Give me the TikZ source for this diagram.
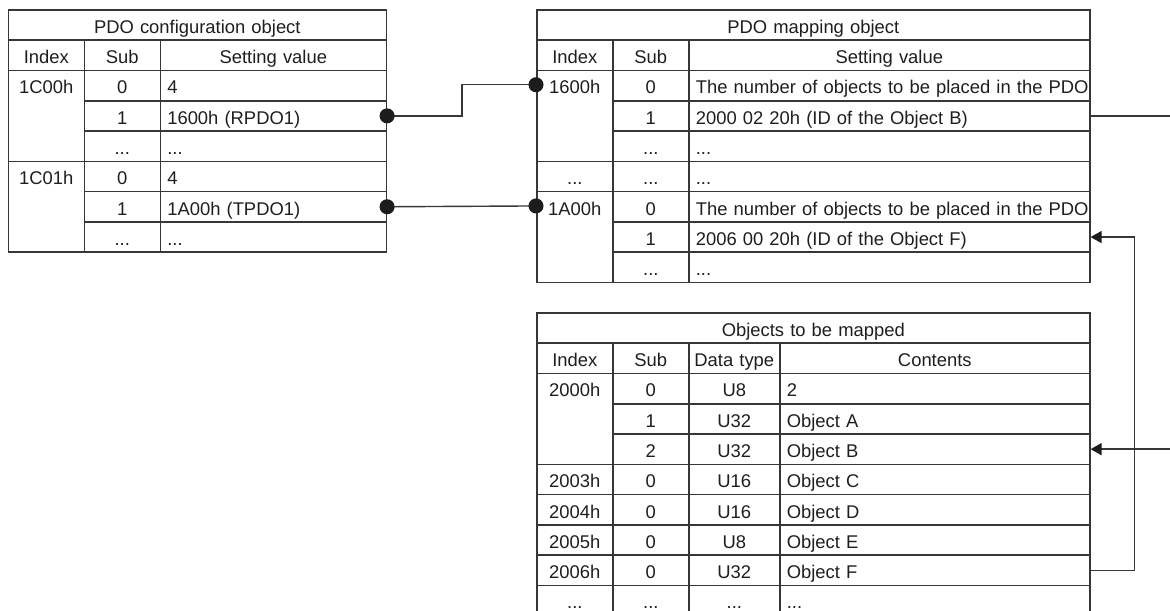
\documentclass[tikz,border=0pt]{standalone}
\usepackage{fontspec}
\setmainfont{Liberation Sans}
\usepackage{tikz}
\usetikzlibrary{arrows.meta,positioning}
\definecolor{tline}{RGB}{55,55,55}
\definecolor{tdot}{RGB}{28,28,28}
\definecolor{txt}{RGB}{30,30,30}

\begin{document}
\begin{tikzpicture}[x=0.5pt,y=-0.5pt,
  cell/.style={draw=tline,line width=0.8pt,anchor=north west,inner xsep=3.5pt,inner ysep=0pt,
    text height=11.7pt,text depth=3.45pt,text=txt,font=\fontsize{9.2pt}{11pt}\selectfont},
  mid/.style={cell,align=center,text width=#1},
  lft/.style={cell,align=left,text width=#1},
  span/.style={text depth=33.75pt},
  link/.style={draw=tline,line width=0.7pt},
  dots/.style={link,{Circle[length=7.5pt,color=tdot]}-{Circle[length=7.5pt,color=tdot]},
    shorten <=-3.75pt,shorten >=-3.75pt},
  ptr/.style={link,-{Triangle[length=5.5pt,width=6pt,color=tdot]}}]
\useasboundingbox (0,0) rectangle (1170,610);
\clip (0,0) rectangle (1170,610);

% PDO configuration object
\node[mid=182pt] (cfgHead) at (7.5,9) {PDO configuration object};
\node[mid=31pt] (cfgIdxH) at (7.5,39.3) {Index};
\node[mid=31pt] (cfgSubH) at (83.5,39.3) {Sub};
\node[mid=106pt] (cfgValH) at (159.5,39.3) {Setting value};
\node[mid=31pt,span] (cfgIdxR) at (7.5,69.6) {1C00h};
\node[mid=31pt] (cfgSubR0) at (83.5,69.6) {0};
\node[lft=106pt] (cfgValR0) at (159.5,69.6) {4};
\node[mid=31pt] (cfgSubR1) at (83.5,99.9) {1};
\node[lft=106pt] (cfgValR1) at (159.5,99.9) {1600h (RPDO1)};
\node[mid=31pt] (cfgSubR2) at (83.5,130.2) {...};
\node[lft=106pt] (cfgValR2) at (159.5,130.2) {...};
\node[mid=31pt,span] (cfgIdxT) at (7.5,160.5) {1C01h};
\node[mid=31pt] (cfgSubT0) at (83.5,160.5) {0};
\node[lft=106pt] (cfgValT0) at (159.5,160.5) {4};
\node[mid=31pt] (cfgSubT1) at (83.5,190.8) {1};
\node[lft=106pt] (cfgValT1) at (159.5,190.8) {1A00h (TPDO1)};
\node[mid=31pt] (cfgSubT2) at (83.5,221.1) {...};
\node[lft=106pt] (cfgValT2) at (159.5,221.1) {...};

% PDO mapping object
\node[mid=269.5pt] (mapHead) at (536,9) {PDO mapping object};
\node[mid=31pt] (mapIdxH) at (536,39.3) {Index};
\node[mid=31pt] (mapSubH) at (612,39.3) {Sub};
\node[mid=193.5pt] (mapValH) at (688,39.3) {Setting value};
\node[mid=31pt,span] (mapIdxR) at (536,69.6) {1600h};
\node[mid=31pt] (mapSubR0) at (612,69.6) {0};
\node[lft=193.5pt] (mapValR0) at (688,69.6) {\mbox{The number of objects to be placed in the PDO}};
\node[mid=31pt] (mapSubR1) at (612,99.9) {1};
\node[lft=193.5pt] (mapValR1) at (688,99.9) {2000 02 20h (ID of the Object B)};
\node[mid=31pt] (mapSubR2) at (612,130.2) {...};
\node[lft=193.5pt] (mapValR2) at (688,130.2) {...};
\node[mid=31pt] (mapIdxX) at (536,160.5) {...};
\node[mid=31pt] (mapSubX) at (612,160.5) {...};
\node[lft=193.5pt] (mapValX) at (688,160.5) {...};
\node[mid=31pt,span] (mapIdxT) at (536,190.8) {1A00h};
\node[mid=31pt] (mapSubT0) at (612,190.8) {0};
\node[lft=193.5pt] (mapValT0) at (688,190.8) {\mbox{The number of objects to be placed in the PDO}};
\node[mid=31pt] (mapSubT1) at (612,221.1) {1};
\node[lft=193.5pt] (mapValT1) at (688,221.1) {2006 00 20h (ID of the Object F)};
\node[mid=31pt] (mapSubT2) at (612,251.4) {...};
\node[lft=193.5pt] (mapValT2) at (688,251.4) {...};

% Objects to be mapped
\node[mid=269.5pt] (objHead) at (536,312) {Objects to be mapped};
\node[mid=31pt] (objIdxH) at (536,342.3) {Index};
\node[mid=31pt] (objSubH) at (612,342.3) {Sub};
\node[mid=40.5pt,inner xsep=2.5pt] (objTypH) at (688,342.3) {\mbox{Data type}};
\node[mid=148pt] (objValH) at (779,342.3) {Contents};
\node[mid=31pt,span] (objIdxAB) at (536,372.6) {2000h};
\node[mid=31pt] (objSub0) at (612,372.6) {0};
\node[mid=38.5pt] (objTyp0) at (688,372.6) {U8};
\node[lft=148pt] (objVal0) at (779,372.6) {2};
\node[mid=31pt] (objSubA) at (612,402.9) {1};
\node[mid=38.5pt] (objTypA) at (688,402.9) {U32};
\node[lft=148pt] (objA) at (779,402.9) {Object A};
\node[mid=31pt] (objSubB) at (612,433.2) {2};
\node[mid=38.5pt] (objTypB) at (688,433.2) {U32};
\node[lft=148pt] (objB) at (779,433.2) {Object B};
\node[mid=31pt] (objIdxC) at (536,463.5) {2003h};
\node[mid=31pt] (objSubC) at (612,463.5) {0};
\node[mid=38.5pt] (objTypC) at (688,463.5) {U16};
\node[lft=148pt] (objC) at (779,463.5) {Object C};
\node[mid=31pt] (objIdxD) at (536,493.8) {2004h};
\node[mid=31pt] (objSubD) at (612,493.8) {0};
\node[mid=38.5pt] (objTypD) at (688,493.8) {U16};
\node[lft=148pt] (objD) at (779,493.8) {Object D};
\node[mid=31pt] (objIdxE) at (536,524.1) {2005h};
\node[mid=31pt] (objSubE) at (612,524.1) {0};
\node[mid=38.5pt] (objTypE) at (688,524.1) {U8};
\node[lft=148pt] (objE) at (779,524.1) {Object E};
\node[mid=31pt] (objIdxF) at (536,554.4) {2006h};
\node[mid=31pt] (objSubF) at (612,554.4) {0};
\node[mid=38.5pt] (objTypF) at (688,554.4) {U32};
\node[lft=148pt] (objF) at (779,554.4) {Object F};
\node[mid=31pt] (objIdxX) at (536,584.7) {...};
\node[mid=31pt] (objSubX) at (612,584.7) {...};
\node[mid=38.5pt] (objTypX) at (688,584.7) {...};
\node[lft=148pt] (objValX) at (779,584.7) {...};

% Connectors
\coordinate (edgeR) at (1173,0);  % just beyond the right border
\draw[dots] (cfgValR1.east) -- ++(75,0) |- ([yshift=-7.575pt]mapIdxR.north west);
\draw[dots] (cfgValT1.east) -- ([yshift=-7.575pt]mapIdxT.north west);
\draw[ptr] (mapValR1.east) -- (mapValR1.east -| edgeR) |- (objB.east);
\draw[ptr] (objF.east) -- ++(44,0) |- (mapValT1.east);
\end{tikzpicture}
\end{document}
